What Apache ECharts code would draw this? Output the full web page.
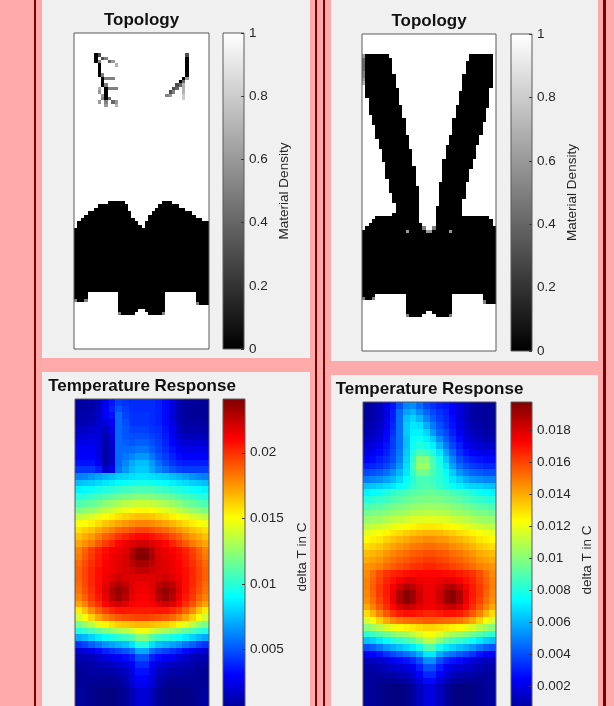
<!DOCTYPE html>
<html><head><meta charset="utf-8">
<script src="https://cdn.jsdelivr.net/npm/echarts@6/dist/echarts.min.js"></script>
<style>html,body{margin:0;padding:0;background:#ffaaaa}#c{width:614px;height:706px}</style>
</head><body><div id="c"></div><script>
// ---------- DATA ----------
// Topology density maps: '#' = 0 (solid), '.' = 1 (void), digit d = d/10. 40 columns x 94 rows, '|' separates groups of 10.
const W = '..........|..........|..........|..........';
const B = '##########|##########|##########|##########';
const rep = (n, s) => Array(n).fill(s);
const topoLeftRows = [
  ...rep(6, W),
  '......#3..|..........|..........|...3......',
  '......#.35|..........|..........|...#......',
  '......#5..|46........|..........|...#......',
  '.......#..|..7.......|..........|...#......',
  '.......#..|..........|..........|...#......',
  '.......#..|..........|..........|...#......',
  '.......#5.|..........|..........|...#......',
  '........#5|55........|..........|..#6......',
  '........#.|..........|..........|.#4.......',
  '........#5|..........|..........|347.......',
  '.......7.#|555.......|.........3|4.7.......',
  '.......6.#|..........|........35|..7.......',
  '........6#|..........|.......56.|..8.......',
  '........5#|4.........|..........|..8.......',
  '.......6.5|.46.......|..........|..........',
  '.........6|..7.......|..........|..........',
  ...rep(28, W),
  '..........|#####.....|......###.|..........',
  '.......###|######....|.....#####|#.........',
  '......####|######....|....######|###.......',
  '....######|#######...|...#######|#####.....',
  '...#######|#######...|..########|######....',
  '..########|########..|..########|########..',
  '.#########|#########.|.#########|##########',
  '.#########|##########|.#########|##########',
  ...rep(19, B),
  '####......|...#######|#######...|......####',
  '####......|...#######|#######...|......####',
  '5##5......|...#######|#######...|......####',
  '..........|...#######|#######...|......5###',
  '..........|...#######|#######...|..........',
  '..........|...######.|.######...|..........',
  '..........|...5####..|..####5...|..........',
  ...rep(10, W)
];
const topoRightRows = [
  ...rep(6, W),
  '6#######..|..........|..........|..#######.',
  '4########.|..........|..........|..#######.',
  '4########.|..........|..........|.########.',
  '4########.|..........|..........|.########.',
  '4########.|..........|..........|.########.',
  '5########.|..........|..........|.########.',
  '5#########|..........|..........|#########.',
  '6#########|..........|..........|#########.',
  '7#########|..........|..........|#########.',
  '.#########|..........|..........|#########.',
  '.#########|#.........|..........|########..',
  '.#########|#.........|.........#|########..',
  '.#########|#.........|.........#|########..',
  '..########|#.........|.........#|########..',
  '..########|#.........|.........#|########..',
  '..########|##........|........##|########..',
  '..########|##........|........##|#######...',
  '..########|##........|........##|#######...',
  '...#######|##........|........##|#######...',
  '...#######|###.......|.......###|#######...',
  '...#######|###.......|.......###|######....',
  '....######|###.......|.......###|######....',
  '....######|###.......|.......###|######....',
  '....######|###.......|.......###|######....',
  '....######|####......|......####|#####.....',
  '.....#####|####......|......####|#####.....',
  '.....#####|####......|......####|#####.....',
  '.....#####|####......|.....#####|####......',
  '......####|#####.....|.....#####|####......',
  '......####|#####.....|.....#####|####......',
  '......####|#####.....|.....#####|####......',
  '......####|#####.....|....######|###.......',
  '.......###|#####.....|....######|###.......',
  '.......###|######....|....######|###.......',
  '.......###|######....|....######|##........',
  '.......###|######....|....######|##........',
  '.......###|######....|....######|##........',
  '........##|######....|....######|##........',
  '........##|######....|...#######|#.........',
  '........##|#######...|...#######|#.........',
  '........##|#######...|...#######|#.........',
  '.........#|#######...|...#######|#.........',
  '.........#|#######...|...#######|#.........',
  '.........#|#######...|...#######|..........',
  '..........|#######...|...#######|..........',
  '..........|#######...|..########|..........',
  '..........|#######...|..########|..........',
  '.........#|#######...|..########|..........',
  '....######|#######...|..########|########..',
  '...#######|#######...|..########|#########.',
  '..########|########..|..########|#########.',
  '.#########|########5.|.5########|##########',
  '##########|###6#####6|6#####6###|##########',
  ...rep(18, B),
  '####......|...#######|#######...|......####',
  '5##5......|...#######|#######...|......####',
  '..........|...#######|#######...|......5###',
  '..........|...#######|#######...|..........',
  '..........|...#######|#######...|..........',
  '..........|...######.|.######...|..........',
  '..........|...5####..|..####5...|..........',
  ...rep(10, W)
];
// Temperature rise, in units of 1e-4 degC, 20 columns x 47 rows (top to bottom)
const tempLeftRows = [
  [8,8,10,14,25,35,45,42,40,40,40,40,38,32,22,12,8,6,6,6],
  [8,8,10,15,28,38,50,44,40,40,40,40,38,32,22,12,8,6,6,6],
  [10,10,12,16,28,34,55,46,42,42,42,40,38,32,22,12,8,6,6,6],
  [12,12,14,18,22,30,55,48,42,42,42,40,38,32,24,14,8,8,8,8],
  [16,16,18,20,16,26,55,50,45,45,45,42,40,34,26,16,10,10,10,10],
  [20,20,22,22,12,22,55,50,48,48,48,45,42,36,28,20,14,14,14,14],
  [24,24,25,22,10,20,55,52,50,52,52,48,44,38,30,24,20,20,20,20],
  [28,28,28,22,10,18,55,55,55,58,58,52,46,40,34,28,25,25,25,25],
  [30,30,30,24,10,18,55,58,62,66,66,58,50,44,38,32,30,30,30,30],
  [34,34,34,26,10,18,55,62,70,75,75,66,56,48,42,38,36,36,36,36],
  [42,42,42,36,18,26,58,66,74,78,78,70,62,56,50,46,44,44,44,44],
  [60,62,65,69,72,75,79,81,83,85,85,83,81,79,75,72,69,65,62,60],
  [75,77,79,82,85,87,90,92,94,95,95,94,92,90,87,85,82,79,77,75],
  [88,90,92,95,98,100,103,105,107,108,108,107,105,103,100,98,95,92,90,88],
  [98,100,103,106,110,113,116,118,120,122,122,120,118,116,113,110,106,103,100,98],
  [108,111,114,118,123,127,130,134,136,138,138,136,134,130,127,123,118,114,111,108],
  [120,123,126,131,136,140,144,147,150,152,152,150,147,144,140,136,131,126,123,120],
  [135,138,141,146,150,154,158,161,164,166,166,164,161,158,154,150,146,141,138,135],
  [148,151,154,159,164,168,172,175,178,180,180,178,175,172,168,164,159,154,151,148],
  [158,162,165,171,176,181,186,189,192,195,195,192,189,186,181,176,171,165,162,158],
  [165,170,174,181,188,193,199,203,207,210,210,207,203,199,193,188,181,174,170,165],
  [172,177,182,190,197,203,210,215,218,222,222,218,215,210,203,197,190,182,177,172],
  [180,188,196,203,208,212,215,218,228,238,238,228,218,215,212,208,203,196,188,180],
  [182,190,198,205,210,214,216,220,230,240,240,230,220,216,214,210,205,198,190,182],
  [186,194,200,206,211,215,218,220,226,232,232,226,220,218,215,211,206,200,194,186],
  [188,195,202,208,212,215,218,220,222,225,225,222,220,218,215,212,208,202,195,188],
  [188,195,202,208,214,218,222,220,218,218,218,218,220,222,218,214,208,202,195,188],
  [186,194,202,208,216,225,230,225,218,215,215,218,225,230,225,216,208,202,194,186],
  [184,192,200,208,218,230,236,230,218,214,214,218,230,236,230,218,208,200,192,184],
  [180,188,198,206,216,228,234,228,216,212,212,216,228,234,228,216,206,198,188,180],
  [172,180,192,200,210,218,222,218,212,210,210,212,218,222,218,210,200,192,180,172],
  [155,165,178,188,196,202,206,206,205,205,205,205,206,206,202,196,188,178,165,155],
  [140,150,162,172,180,186,190,192,194,195,195,194,192,190,186,180,172,162,150,140],
  [118,125,135,145,152,158,162,164,166,168,168,166,164,162,158,152,145,135,125,118],
  [98,102,108,114,120,125,130,134,140,148,148,140,134,130,125,120,114,108,102,98],
  [70,74,80,86,92,96,100,104,110,122,122,110,104,100,96,92,86,80,74,70],
  [42,46,52,58,64,68,72,76,84,98,98,84,76,72,68,64,58,52,46,42],
  [20,22,26,32,38,42,46,50,56,70,70,56,50,46,42,38,32,26,22,20],
  [12,12,14,18,22,26,28,32,38,50,50,38,32,28,26,22,18,14,12,12],
  [8,8,10,12,14,16,18,22,28,40,40,28,22,18,16,14,12,10,8,8],
  [6,6,8,8,10,10,12,16,24,34,34,24,16,12,10,10,8,8,6,6],
  [6,6,6,6,6,6,8,12,22,30,30,22,12,8,6,6,6,6,6,6],
  [6,6,5,4,4,4,6,10,20,26,26,20,10,6,4,4,4,5,6,6],
  [8,6,3,1,0,0,2,6,14,20,20,14,6,2,0,0,1,3,6,8],
  [8,6,3,1,0,0,2,6,14,20,20,14,6,2,0,0,1,3,6,8],
  [8,6,3,1,0,0,2,6,14,20,20,14,6,2,0,0,1,3,6,8],
  [8,6,3,1,0,0,2,6,14,20,20,14,6,2,0,0,1,3,6,8]
];
const tempRightRows = [
  [6,8,12,20,28,40,50,52,45,38,34,30,28,24,18,12,8,6,5,5],
  [6,8,12,20,30,45,56,60,52,44,38,34,30,24,18,12,8,6,5,5],
  [6,8,12,20,30,46,62,66,60,50,42,36,32,26,18,12,8,6,5,5],
  [8,10,14,22,32,46,64,70,68,58,48,40,34,28,20,14,10,8,6,6],
  [10,12,16,24,34,46,64,72,72,66,54,44,38,30,22,16,12,10,8,8],
  [12,14,18,26,36,46,62,74,76,72,64,52,42,34,26,18,14,12,10,10],
  [16,18,22,28,36,46,62,76,80,78,72,60,48,38,30,22,18,16,14,14],
  [20,22,26,30,38,48,64,80,88,86,80,70,56,44,34,28,24,22,20,20],
  [24,26,30,34,40,50,66,84,100,100,88,78,64,50,40,34,30,28,26,26],
  [30,32,34,38,44,54,68,86,104,104,90,80,70,56,46,40,36,34,32,32],
  [38,40,42,46,52,60,70,84,96,96,88,82,74,64,54,48,44,42,40,40],
  [48,50,52,56,60,66,74,82,88,88,86,82,78,70,64,58,54,52,50,50],
  [62,63,65,67,70,74,78,84,88,90,88,84,80,76,72,68,66,65,63,62],
  [72,74,76,80,83,86,88,91,92,94,94,92,91,88,86,83,80,76,74,72],
  [80,82,84,86,89,91,94,95,97,98,98,97,95,94,91,89,86,84,82,80],
  [88,90,91,94,96,98,100,102,103,104,104,103,102,100,98,96,94,91,90,88],
  [95,97,98,100,102,104,106,108,109,110,110,109,108,106,104,102,100,98,97,95],
  [102,104,105,108,110,112,114,116,117,118,118,117,116,114,112,110,108,105,104,102],
  [110,112,114,116,119,121,124,125,127,128,128,127,125,124,121,119,116,114,112,110],
  [118,120,122,125,128,130,133,135,137,138,138,137,135,133,130,128,125,122,120,118],
  [124,126,128,132,135,138,140,143,144,146,146,144,143,140,138,135,132,128,126,124],
  [130,132,134,138,141,144,146,149,150,152,152,150,149,146,144,141,138,134,132,130],
  [136,138,140,144,147,150,152,155,156,158,158,156,155,152,150,147,144,140,138,136],
  [140,142,144,148,151,154,156,159,160,162,162,160,159,156,154,151,148,144,142,140],
  [144,146,148,152,155,158,160,163,164,166,166,164,163,160,158,155,152,148,146,144],
  [146,152,158,163,166,168,170,171,172,172,172,172,171,170,168,166,163,158,152,146],
  [148,154,160,166,170,174,178,178,176,175,175,176,178,178,174,170,166,160,154,148],
  [148,155,162,168,174,182,188,186,180,176,176,180,186,188,182,174,168,162,155,148],
  [147,154,162,168,176,188,196,192,182,176,176,182,192,196,188,176,168,162,154,147],
  [145,152,160,167,176,188,196,192,182,176,176,182,192,196,188,176,167,160,152,145],
  [140,148,156,164,172,180,184,182,178,175,175,178,182,184,180,172,164,156,148,140],
  [130,138,148,156,163,168,170,170,168,166,166,168,170,170,168,163,156,148,138,130],
  [115,122,132,140,146,150,152,153,154,155,155,154,153,152,150,146,140,132,122,115],
  [100,104,110,116,120,124,126,128,130,132,132,130,128,126,124,120,116,110,104,100],
  [82,85,90,95,99,103,106,110,116,122,122,116,110,106,103,99,95,90,85,82],
  [62,65,70,75,80,84,88,92,100,110,110,100,92,88,84,80,75,70,65,62],
  [40,43,48,54,58,62,66,70,78,90,90,78,70,66,62,58,54,48,43,40],
  [22,24,28,34,38,42,46,50,58,70,70,58,50,46,42,38,34,28,24,22],
  [12,12,14,18,22,26,28,32,40,52,52,40,32,28,26,22,18,14,12,12],
  [8,8,10,12,14,16,18,22,30,40,40,30,22,18,16,14,12,10,8,8],
  [6,6,6,8,8,10,12,16,24,32,32,24,16,12,10,8,8,6,6,6],
  [6,5,4,4,4,5,8,12,18,26,26,18,12,8,5,4,4,4,5,6],
  [6,5,3,1,0,0,2,6,12,18,18,12,6,2,0,0,1,3,5,6],
  [6,5,3,1,0,0,2,6,12,18,18,12,6,2,0,0,1,3,5,6],
  [6,5,3,1,0,0,2,6,12,18,18,12,6,2,0,0,1,3,5,6],
  [6,5,3,1,0,0,2,6,12,18,18,12,6,2,0,0,1,3,5,6],
  [6,5,3,1,0,0,2,6,12,18,18,12,6,2,0,0,1,3,5,6]
];
const tempUnit = 1e-4;
// colour bar ranges and tick steps
const densityRange = [0, 1], densityStep = 0.2;
const tempLeftRange = [0, 0.0241], tempLeftStep = 0.005;
const tempRightRange = [0, 0.01975], tempRightStep = 0.002;
const titles = ['Topology', 'Topology', 'Temperature Response', 'Temperature Response'];
const barLabels = ['Material Density', 'Material Density', 'delta T in C', 'delta T in C'];

// ---------- BUILD ----------
const jet = ['#000080','#0000ff','#0080ff','#00ffff','#80ff80','#ffff00','#ff8000','#ff0000','#800000'];
const grayMap = ['#000000', '#ffffff'];
function decodeTopo(rows) {
  const out = [];
  rows.forEach((s, r) => {
    const line = s.replace(/\|/g, '');
    for (let c = 0; c < line.length; c++) {
      const ch = line[c];
      out.push([c, r, ch === '#' ? 0 : ch === '.' ? 1 : Number(ch) / 10]);
    }
  });
  return out;
}
function decodeTemp(rows) {
  const out = [];
  rows.forEach((row, r) => row.forEach((v, c) => out.push([c, r, v * tempUnit])));
  return out;
}
const cats = n => Array.from({length: n}, (_, i) => i);
const FONT = 'Liberation Sans, Arial, Helvetica, sans-serif';

// each cell drawn through the axes' own scales; 1px overlap (overdrawn by the next cell) removes seams
function renderCell(params, api) {
  const p = api.coord([api.value(0), api.value(1)]);
  const s = api.size([1, 1]);
  const x0 = Math.round(p[0] - s[0] / 2), x1 = Math.round(p[0] + s[0] / 2) + 1;
  const y0 = Math.round(p[1] - s[1] / 2), y1 = Math.round(p[1] + s[1] / 2) + 1;
  return {type: 'rect', shape: {x: x0, y: y0, width: x1 - x0, height: y1 - y0}, style: {fill: api.visual('color')}};
}

const maps = [
  {data: decodeTopo(topoLeftRows), cols: 40, rows: topoLeftRows.length, range: densityRange, colors: grayMap},
  {data: decodeTopo(topoRightRows), cols: 40, rows: topoRightRows.length, range: densityRange, colors: grayMap},
  {data: decodeTemp(tempLeftRows), cols: 20, rows: tempLeftRows.length, range: tempLeftRange, colors: jet},
  {data: decodeTemp(tempRightRows), cols: 20, rows: tempRightRows.length, range: tempRightRange, colors: jet}
];
const steps = [densityStep, densityStep, tempLeftStep, tempRightStep];
const mapBoxes = [
  {left: 74, top: 33, width: 135, height: 316},
  {left: 362, top: 34, width: 134, height: 317},
  {left: 75, top: 399, width: 134, height: 316},
  {left: 363, top: 402, width: 133, height: 316}
];
const barBoxes = [
  {left: 223, top: 33, width: 21, height: 316},
  {left: 511, top: 34, width: 21, height: 317},
  {left: 223, top: 399, width: 22, height: 316},
  {left: 511, top: 402, width: 21, height: 316}
];
const nameGaps = [33, 33, 50, 48];
const titleTops = [12, 13, 378, 381];

const gridStyle = {show: true, z: 5, backgroundColor: 'transparent', borderColor: '#5a5a5a', borderWidth: 1, outerBoundsMode: 'none', containLabel: false};
const grid = [...mapBoxes, ...barBoxes].map(b => Object.assign({}, gridStyle, b));
const xAxis = [], yAxis = [], series = [], visualMap = [];
maps.forEach((m, i) => {
  xAxis.push({type: 'category', gridIndex: i, data: cats(m.cols), show: false});
  yAxis.push({type: 'category', gridIndex: i, data: cats(m.rows), inverse: true, show: false});
  series.push({type: 'custom', xAxisIndex: i, yAxisIndex: i, data: m.data, encode: {x: 0, y: 1}, renderItem: renderCell, clip: true, silent: true, animation: false, progressive: 0});
  visualMap.push({type: 'continuous', show: false, seriesIndex: i, dimension: 2, min: m.range[0], max: m.range[1], inRange: {color: m.colors}});
});
maps.forEach((m, i) => {
  const gi = 4 + i;
  xAxis.push({type: 'category', gridIndex: gi, data: ['bar'], show: false});
  yAxis.push({
    type: 'value', gridIndex: gi, min: m.range[0], max: m.range[1], interval: steps[i], position: 'right', z: 6,
    axisLine: {show: false}, splitLine: {show: false},
    axisTick: {show: true, inside: true, length: 3, lineStyle: {color: '#3a3a3a', width: 1}},
    axisLabel: {show: true, margin: 5, color: '#262626', fontSize: 13.5, fontFamily: FONT, showMaxLabel: m.range[1] === 1},
    name: barLabels[i], nameLocation: 'middle', nameRotate: 90, nameGap: nameGaps[i],
    nameTextStyle: {color: '#262626', fontSize: 13.5, fontFamily: FONT}
  });
  const stops = m.colors.slice().reverse().map((c, k, a) => ({offset: k / (a.length - 1), color: c}));
  series.push({
    type: 'bar', xAxisIndex: gi, yAxisIndex: gi, data: [m.range[1]], barWidth: '100%', silent: true, animation: false,
    itemStyle: {color: {type: 'linear', x: 0, y: 0, x2: 0, y2: 1, colorStops: stops}}
  });
});
const title = titles.map((t, i) => ({
  text: t, left: mapBoxes[i].left + mapBoxes[i].width / 2, top: titleTops[i], textAlign: 'center', padding: 0,
  textStyle: {fontSize: 17, fontWeight: 'bold', color: '#111', fontFamily: FONT}
}));
const panel = (x, y, w, h) => ({type: 'rect', z: -10, silent: true, shape: {x, y, width: w, height: h}, style: {fill: '#f0f0f0'}});
const rule = (x, w) => ({type: 'rect', z: -10, silent: true, shape: {x, y: 0, width: w, height: 706}, style: {fill: '#800000'}});
const graphic = [
  panel(42, 0, 268, 358), panel(42, 372, 268, 334), panel(331, 0, 267, 361), panel(331, 375, 267, 331),
  rule(34, 2), rule(315, 2), rule(323, 2), rule(603, 3)
];
const chart = echarts.init(document.getElementById('c'), null, {renderer: 'canvas'});
chart.setOption({backgroundColor: '#ffaaaa', animation: false, title, grid, xAxis, yAxis, visualMap, series, graphic});
</script></body></html>
